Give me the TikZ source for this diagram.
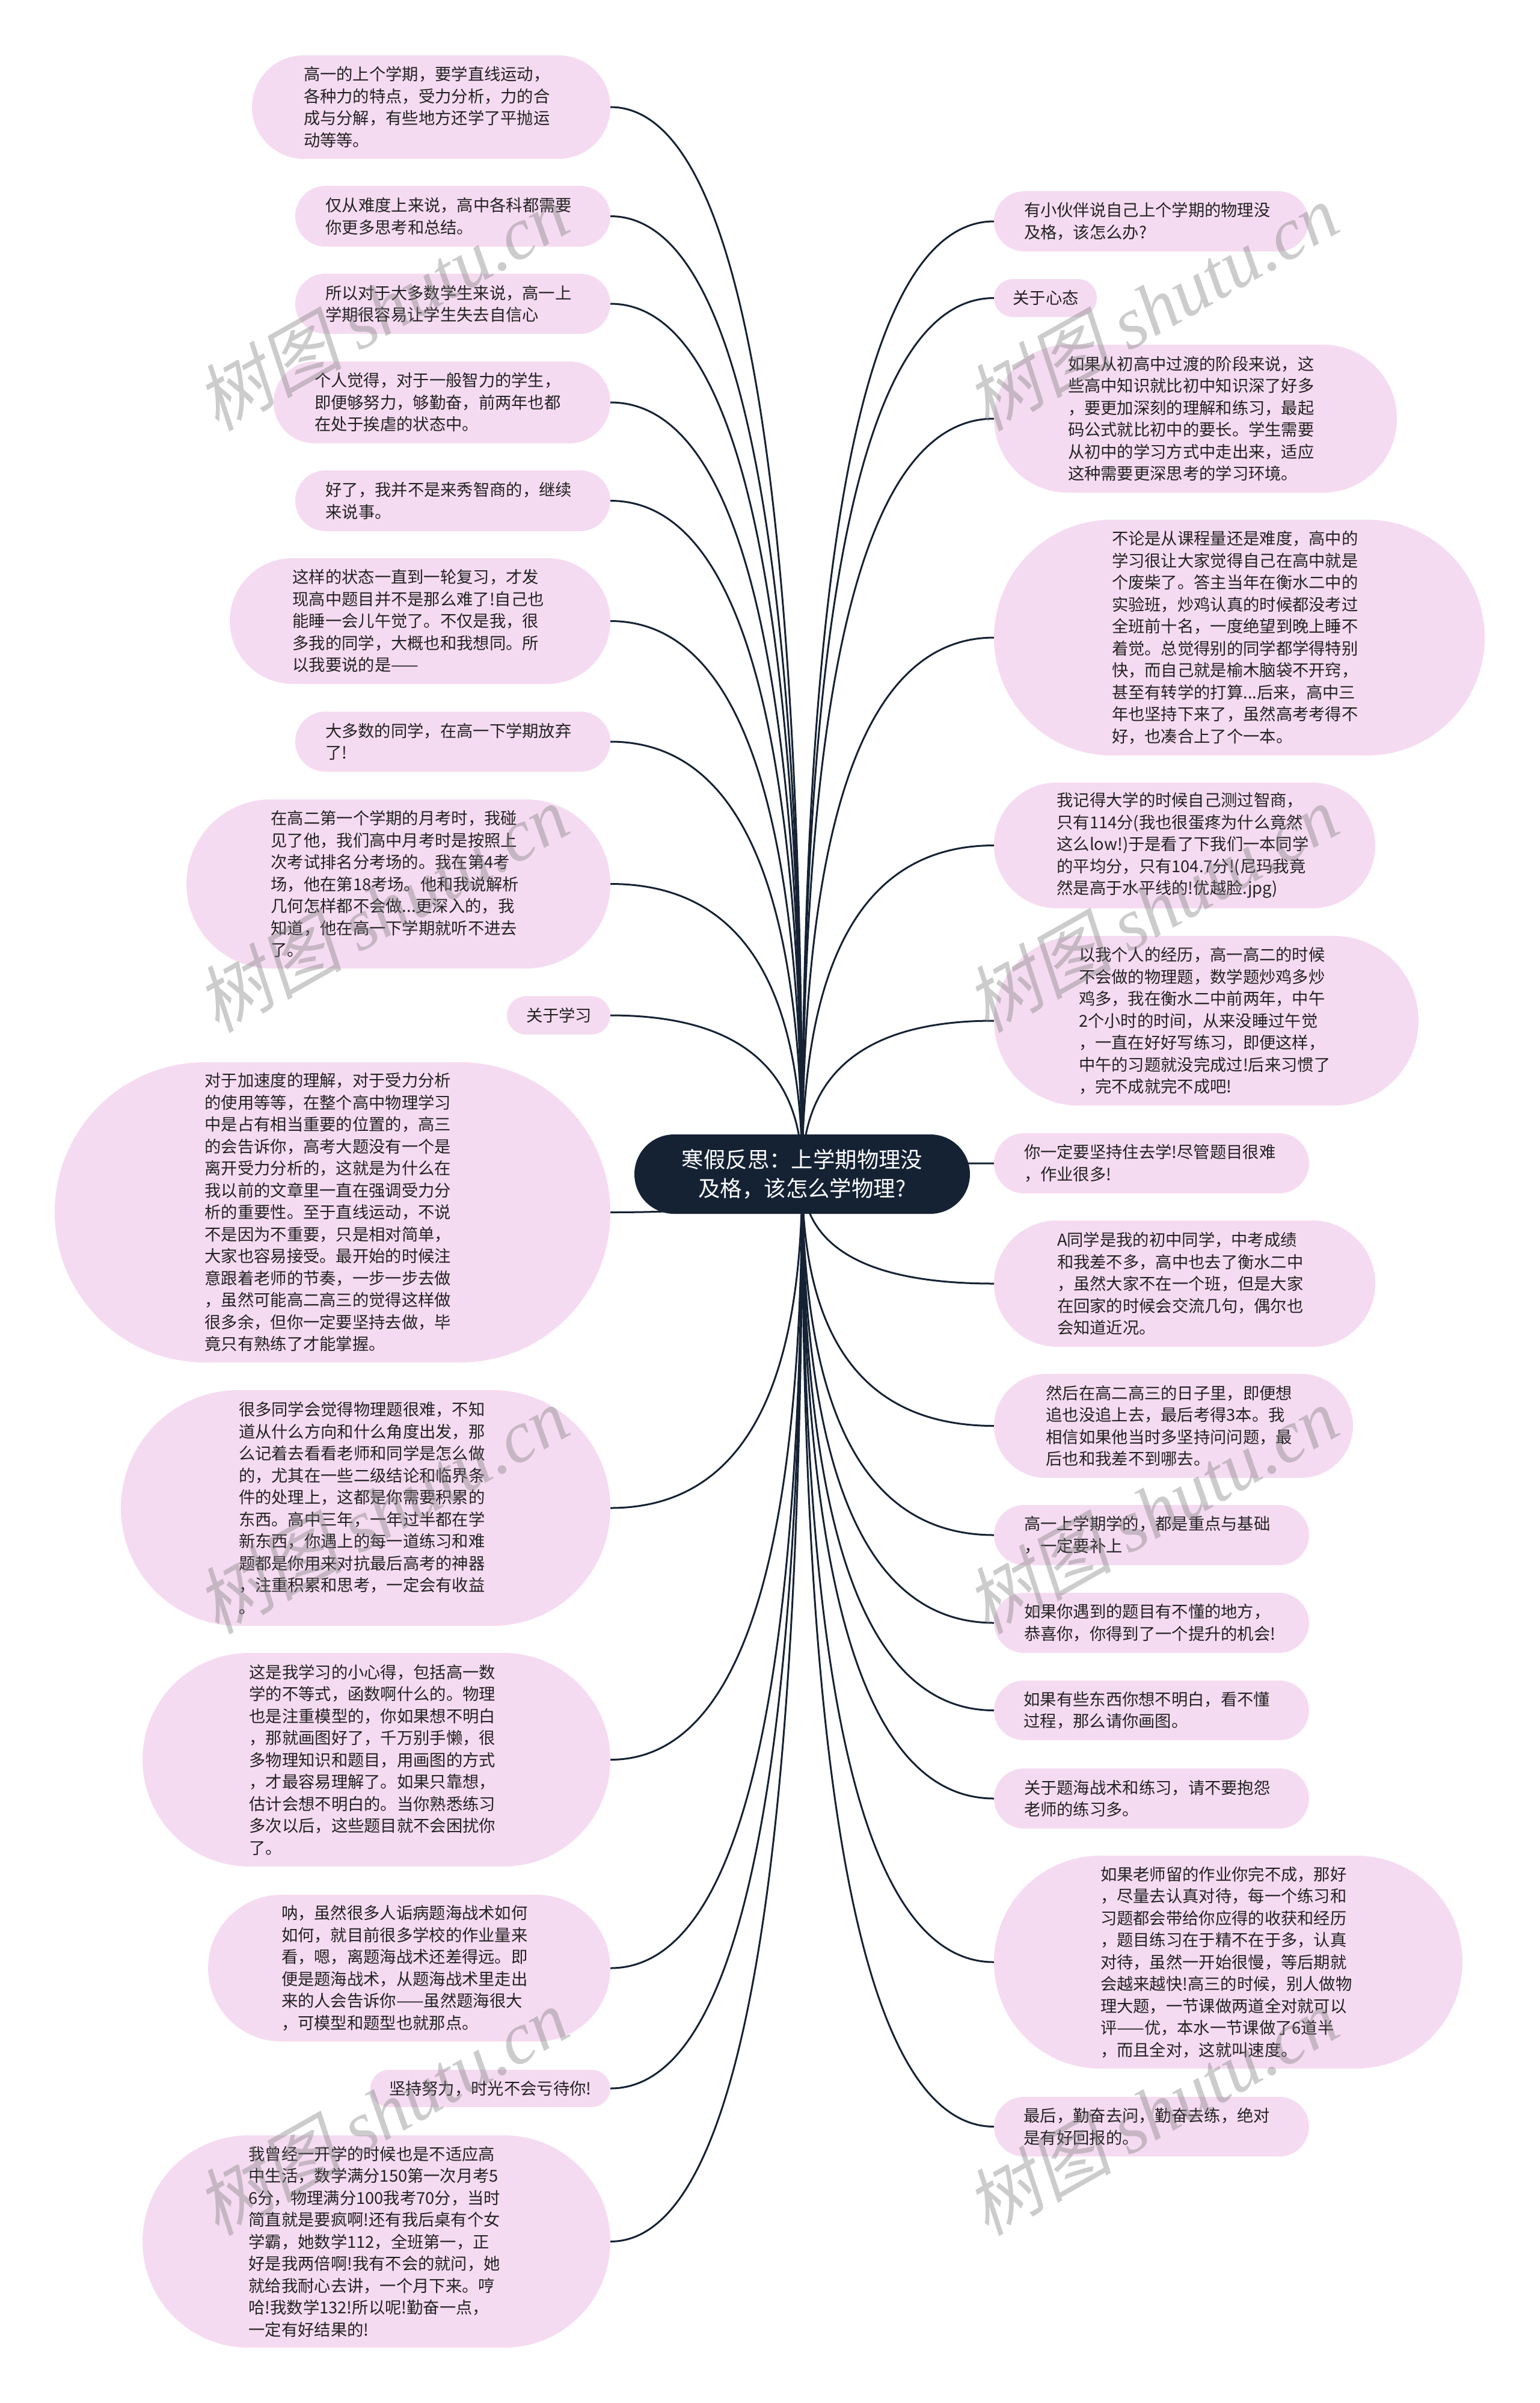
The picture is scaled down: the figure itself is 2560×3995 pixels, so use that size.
\documentclass[tikz,border=0pt]{standalone}
\usepackage{fontspec}
\setmainfont{Noto Sans CJK SC}
\newfontfamily\markcjk[FakeSlant=0.2]{Noto Sans CJK SC}
\newfontfamily\marklatin[ItalicFont={Liberation Serif Italic}]{Liberation Serif}
\usetikzlibrary{calc,backgrounds}
\definecolor{leafpink}{HTML}{F5DBF1}
\definecolor{rootnavy}{HTML}{152234}
\definecolor{leafink}{HTML}{222222}
\tikzset{
  leaf/.style n args={2}{fill=leafpink,text=leafink,align=left,outer sep=0pt,
    inner ysep=0pt,inner xsep={#2pt/2},minimum width={#1pt},minimum height={#2pt},
    text width={#1pt-#2pt},rounded corners={#2pt/2},
    font=\fontsize{27.3}{36.5}\selectfont},
  lft/.style={anchor=north east},
  rgt/.style={anchor=north west},
  rootbox/.style={fill=rootnavy,text=white,align=center,outer sep=0pt,inner sep=0pt,
    minimum width=558pt,minimum height=132pt,rounded corners=66pt,
    font=\fontsize{36.4}{48}\selectfont},
  wmark/.style={rotate=29.5,text=gray,text opacity=0.4,inner sep=0pt,
    font=\fontsize{122}{126}\selectfont},
  branchline/.style={draw=rootnavy,line width=3pt}
}
\newcommand{\branch}[1]{\draw[branchline] (#1) .. controls ($(#1)!.667!(root.center |- #1)$) and ($(root.center)!.667!(root.center |- #1)$) .. (root.center);}
\newcommand{\marktext}{{\markcjk 树图} {\marklatin\itshape shutu.cn}}
\begin{document}
\begin{tikzpicture}[x=1pt,y=-1pt]
\useasboundingbox (0,0) rectangle (2560,3995);
% centre
\node[rootbox] (root) at (1334,1952) {寒假反思：上学期物理没\\及格，该怎么学物理?};
% left side
\node[leaf={596}{172},lft] (l1) at (1015,92) {高一的上个学期，要学直线运动，\\各种力的特点，受力分析，力的合\\成与分解，有些地方还学了平抛运\\动等等。};
\node[leaf={524}{101},lft] (l2) at (1015,309) {仅从难度上来说，高中各科都需要\\你更多思考和总结。};
\node[leaf={524}{100},lft] (l3) at (1015,455) {所以对于大多数学生来说，高一上\\学期很容易让学生失去自信心};
\node[leaf={560}{136},lft] (l4) at (1015,601) {个人觉得，对于一般智力的学生，\\即便够努力，够勤奋，前两年也都\\在处于挨虐的状态中。};
\node[leaf={524}{101},lft] (l5) at (1015,782) {好了，我并不是来秀智商的，继续\\来说事。};
\node[leaf={633}{209},lft] (l6) at (1015,928) {这样的状态一直到一轮复习，才发\\现高中题目并不是那么难了!自己也\\能睡一会儿午觉了。不仅是我，很\\多我的同学，大概也和我想同。所\\以我要说的是——};
\node[leaf={524}{100},lft] (l7) at (1015,1183) {大多数的同学，在高一下学期放弃\\了!};
\node[leaf={705}{281},lft] (l8) at (1015,1329) {在高二第一个学期的月考时，我碰\\见了他，我们高中月考时是按照上\\次考试排名分考场的。我在第4考\\场，他在第18考场。他和我说解析\\几何怎样都不会做...更深入的，我\\知道，他在高一下学期就听不进去\\了。};
\node[leaf={172}{64},lft] (l9) at (1015,1656) {关于学习};
\node[leaf={924}{499},lft] (l10) at (1015,1766) {对于加速度的理解，对于受力分析\\的使用等等，在整个高中物理学习\\中是占有相当重要的位置的，高三\\的会告诉你，高考大题没有一个是\\离开受力分析的，这就是为什么在\\我以前的文章里一直在强调受力分\\析的重要性。至于直线运动，不说\\不是因为不重要，只是相对简单，\\大家也容易接受。最开始的时候注\\意跟着老师的节奏，一步一步去做\\，虽然可能高二高三的觉得这样做\\很多余，但你一定要坚持去做，毕\\竟只有熟练了才能掌握。};
\node[leaf={814}{392},lft] (l11) at (1015,2311) {很多同学会觉得物理题很难，不知\\道从什么方向和什么角度出发，那\\么记着去看看老师和同学是怎么做\\的，尤其在一些二级结论和临界条\\件的处理上，这都是你需要积累的\\东西。高中三年，一年过半都在学\\新东西，你遇上的每一道练习和难\\题都是你用来对抗最后高考的神器\\，注重积累和思考，一定会有收益\\。};
\node[leaf={778}{355},lft] (l12) at (1015,2748) {这是我学习的小心得，包括高一数\\学的不等式，函数啊什么的。物理\\也是注重模型的，你如果想不明白\\，那就画图好了，千万别手懒，很\\多物理知识和题目，用画图的方式\\，才最容易理解了。如果只靠想，\\估计会想不明白的。当你熟悉练习\\多次以后，这些题目就不会困扰你\\了。};
\node[leaf={669}{244},lft] (l13) at (1015,3150) {呐，虽然很多人诟病题海战术如何\\如何，就目前很多学校的作业量来\\看，嗯，离题海战术还差得远。即\\便是题海战术，从题海战术里走出\\来的人会告诉你——虽然题海很大\\，可模型和题型也就那点。};
\node[leaf={399}{62},lft] (l14) at (1015,3441) {坚持努力，时光不会亏待你!};
\node[leaf={778}{353},lft] (l15) at (1015,3550) {我曾经一开学的时候也是不适应高\\中生活，数学满分150第一次月考5\\6分，物理满分100我考70分，当时\\简直就是要疯啊!还有我后桌有个女\\学霸，她数学112，全班第一，正\\好是我两倍啊!我有不会的就问，她\\就给我耐心去讲，一个月下来。哼\\哈!我数学132!所以呢!勤奋一点，\\一定有好结果的!};
% right side
\node[leaf={523}{100},rgt] (r1) at (1653,318) {有小伙伴说自己上个学期的物理没\\及格，该怎么办?};
\node[leaf={171}{63},rgt] (r2) at (1653,464) {关于心态};
\node[leaf={670}{246},rgt] (r3) at (1653,573) {如果从初高中过渡的阶段来说，这\\些高中知识就比初中知识深了好多\\，要更加深刻的理解和练习，最起\\码公式就比初中的要长。学生需要\\从初中的学习方式中走出来，适应\\这种需要更深思考的学习环境。};
\node[leaf={816}{392},rgt] (r4) at (1653,864) {不论是从课程量还是难度，高中的\\学习很让大家觉得自己在高中就是\\个废柴了。答主当年在衡水二中的\\实验班，炒鸡认真的时候都没考过\\全班前十名，一度绝望到晚上睡不\\着觉。总觉得别的同学都学得特别\\快，而自己就是榆木脑袋不开窍，\\甚至有转学的打算...后来，高中三\\年也坚持下来了，虽然高考考得不\\好，也凑合上了个一本。};
\node[leaf={634}{209},rgt] (r5) at (1653,1301) {我记得大学的时候自己测过智商，\\只有114分(我也很蛋疼为什么竟然\\这么low!)于是看了下我们一本同学\\的平均分，只有104.7分!(尼玛我竟\\然是高于水平线的!优越脸.jpg)};
\node[leaf={706}{282},rgt] (r6) at (1653,1556) {以我个人的经历，高一高二的时候\\不会做的物理题，数学题炒鸡多炒\\鸡多，我在衡水二中前两年，中午\\2个小时的时间，从来没睡过午觉\\，一直在好好写练习，即便这样，\\中午的习题就没完成过!后来习惯了\\，完不成就完不成吧!};
\node[leaf={524}{100},rgt] (r7) at (1653,1884) {你一定要坚持住去学!尽管题目很难\\，作业很多!};
\node[leaf={634}{210},rgt] (r8) at (1653,2029) {A同学是我的初中同学，中考成绩\\和我差不多，高中也去了衡水二中\\，虽然大家不在一个班，但是大家\\在回家的时候会交流几句，偶尔也\\会知道近况。};
\node[leaf={597}{173},rgt] (r9) at (1653,2284) {然后在高二高三的日子里，即便想\\追也没追上去，最后考得3本。我\\相信如果他当时多坚持问问题，最\\后也和我差不到哪去。};
\node[leaf={524}{100},rgt] (r10) at (1653,2502) {高一上学期学的，都是重点与基础\\，一定要补上};
\node[leaf={524}{100},rgt] (r11) at (1653,2648) {如果你遇到的题目有不懂的地方，\\恭喜你，你得到了一个提升的机会!};
\node[leaf={524}{99},rgt] (r12) at (1653,2794) {如果有些东西你想不明白，看不懂\\过程，那么请你画图。};
\node[leaf={524}{100},rgt] (r13) at (1653,2940) {关于题海战术和练习，请不要抱怨\\老师的练习多。};
\node[leaf={779}{354},rgt] (r14) at (1653,3085) {如果老师留的作业你完不成，那好\\，尽量去认真对待，每一个练习和\\习题都会带给你应得的收获和经历\\，题目练习在于精不在于多，认真\\对待，虽然一开始很慢，等后期就\\会越来越快!高三的时候，别人做物\\理大题，一节课做两道全对就可以\\评——优，本水一节课做了6道半\\，而且全对，这就叫速度。};
\node[leaf={524}{99},rgt] (r15) at (1653,3486) {最后，勤奋去问，勤奋去练，绝对\\是有好回报的。};
% connectors
\begin{scope}[on background layer]
\branch{l1.east}
\branch{l2.east}
\branch{l3.east}
\branch{l4.east}
\branch{l5.east}
\branch{l6.east}
\branch{l7.east}
\branch{l8.east}
\branch{l9.east}
\branch{l10.east}
\branch{l11.east}
\branch{l12.east}
\branch{l13.east}
\branch{l14.east}
\branch{l15.east}
\branch{r1.west}
\branch{r2.west}
\branch{r3.west}
\branch{r4.west}
\branch{r5.west}
\branch{r6.west}
\branch{r7.west}
\branch{r8.west}
\branch{r9.west}
\branch{r10.west}
\branch{r11.west}
\branch{r12.west}
\branch{r13.west}
\branch{r14.west}
\branch{r15.west}
\end{scope}
% watermark
\node[wmark] (wm1) at (635,510) {\marktext};
\node[wmark] (wm2) at (1915,510) {\marktext};
\node[wmark] (wm3) at (635,1510) {\marktext};
\node[wmark] (wm4) at (1915,1510) {\marktext};
\node[wmark] (wm5) at (635,2510) {\marktext};
\node[wmark] (wm6) at (1915,2510) {\marktext};
\node[wmark] (wm7) at (635,3510) {\marktext};
\node[wmark] (wm8) at (1915,3510) {\marktext};
\end{tikzpicture}
\end{document}
